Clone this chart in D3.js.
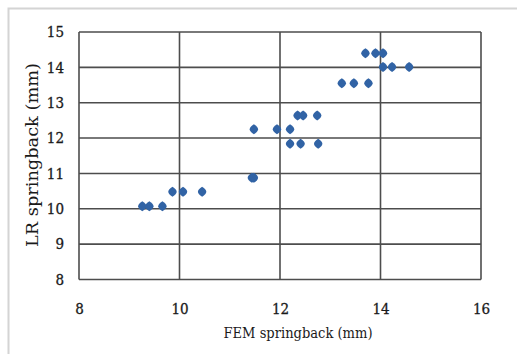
<!DOCTYPE html>
<html><head><meta charset="utf-8">
<script src="https://cdn.jsdelivr.net/npm/d3@7"></script>
<style>body{margin:0;background:#fff}svg{display:block}</style>
</head><body>
<script>
const femSpringback = [9.26,9.40,9.66, 9.86,10.07,10.45, 11.44,11.48, 11.48,11.94,12.20, 12.20,12.41,12.76, 12.35,12.46,12.74, 13.23,13.47,13.76, 14.05,14.23,14.57, 13.70,13.90,14.05];
const lrSpringback  = [10.07,10.07,10.07, 10.48,10.48,10.48, 10.88,10.88, 12.25,12.25,12.25, 11.84,11.84,11.84, 12.64,12.64,12.64, 13.55,13.55,13.55, 14.01,14.01,14.01, 14.40,14.40,14.40];
const xTicks = [8,10,12,14,16];
const yTicks = [8,9,10,11,12,13,14,15];
const xTitle = "FEM springback (mm)";
const yTitle = "LR springback (mm)";

const W=517,H=354;
const svg=d3.select("body").append("svg").attr("width",W).attr("height",H);
svg.append("rect").attr("x",8.5).attr("y",8.5).attr("width",W+10).attr("height",H+10)
  .attr("fill","none").attr("stroke","#d4d4d4").attr("stroke-width",2);

const L=79,R=481,T=32,B=279.5;
const x=d3.scaleLinear().domain([8,16]).range([L,R]);
const y=d3.scaleLinear().domain([8,15]).range([B,T]);
const font="'DejaVu Serif Condensed','DejaVu Serif', serif";
const gridColor="#4d4d4d";

const g=svg.append("g");
g.selectAll("line.h").data(yTicks).join("line")
  .attr("x1",L).attr("x2",R).attr("y1",d=>y(d)).attr("y2",d=>y(d))
  .attr("stroke",gridColor).attr("stroke-width",1.6);
g.selectAll("line.v").data(xTicks).join("line")
  .attr("y1",T).attr("y2",B).attr("x1",d=>x(d)).attr("x2",d=>x(d))
  .attr("stroke",gridColor).attr("stroke-width",1.6);

const xAxis=svg.append("g").attr("transform",`translate(0,${B})`)
  .call(d3.axisBottom(x).tickValues(xTicks).tickFormat(d3.format("d")).tickSize(0).tickPadding(34));
xAxis.select(".domain").remove();
xAxis.selectAll("text").attr("font-family",font).attr("font-size",15).attr("fill","#1a1a1a")
  .attr("stroke","#1a1a1a").attr("stroke-width",0.3).attr("dy","0");
const yAxis=svg.append("g").attr("transform",`translate(${L},0)`)
  .call(d3.axisLeft(y).tickValues(yTicks).tickFormat(d3.format("d")).tickSize(0).tickPadding(15));
yAxis.select(".domain").remove();
yAxis.selectAll("text").attr("font-family",font).attr("font-size",15).attr("fill","#1a1a1a")
  .attr("stroke","#1a1a1a").attr("stroke-width",0.3);

svg.append("text").attr("x",298).attr("y",338).attr("text-anchor","middle")
  .attr("font-family",font).attr("font-size",15).attr("fill","#1a1a1a")
  .attr("textLength",149).attr("lengthAdjust","spacingAndGlyphs").text(xTitle);
svg.append("text").attr("transform","translate(38,155) rotate(-90)").attr("text-anchor","middle")
  .attr("font-family",font).attr("font-size",16).attr("fill","#1a1a1a")
  .attr("textLength",184).attr("lengthAdjust","spacingAndGlyphs").text(yTitle);

const data=femSpringback.map((v,i)=>({x:v,y:lrSpringback[i]}));
svg.append("g").selectAll("path").data(data).join("path")
  .attr("d","M0,-5 C2.6,-3.6 4.2,-1.6 4.2,0 C4.2,1.6 2.6,3.6 0,5 C-2.6,3.6 -4.2,1.6 -4.2,0 C-4.2,-1.6 -2.6,-3.6 0,-5Z")
  .attr("transform",d=>`translate(${x(d.x)},${y(d.y)})`)
  .attr("fill","#3163a5");
</script>
</body></html>
